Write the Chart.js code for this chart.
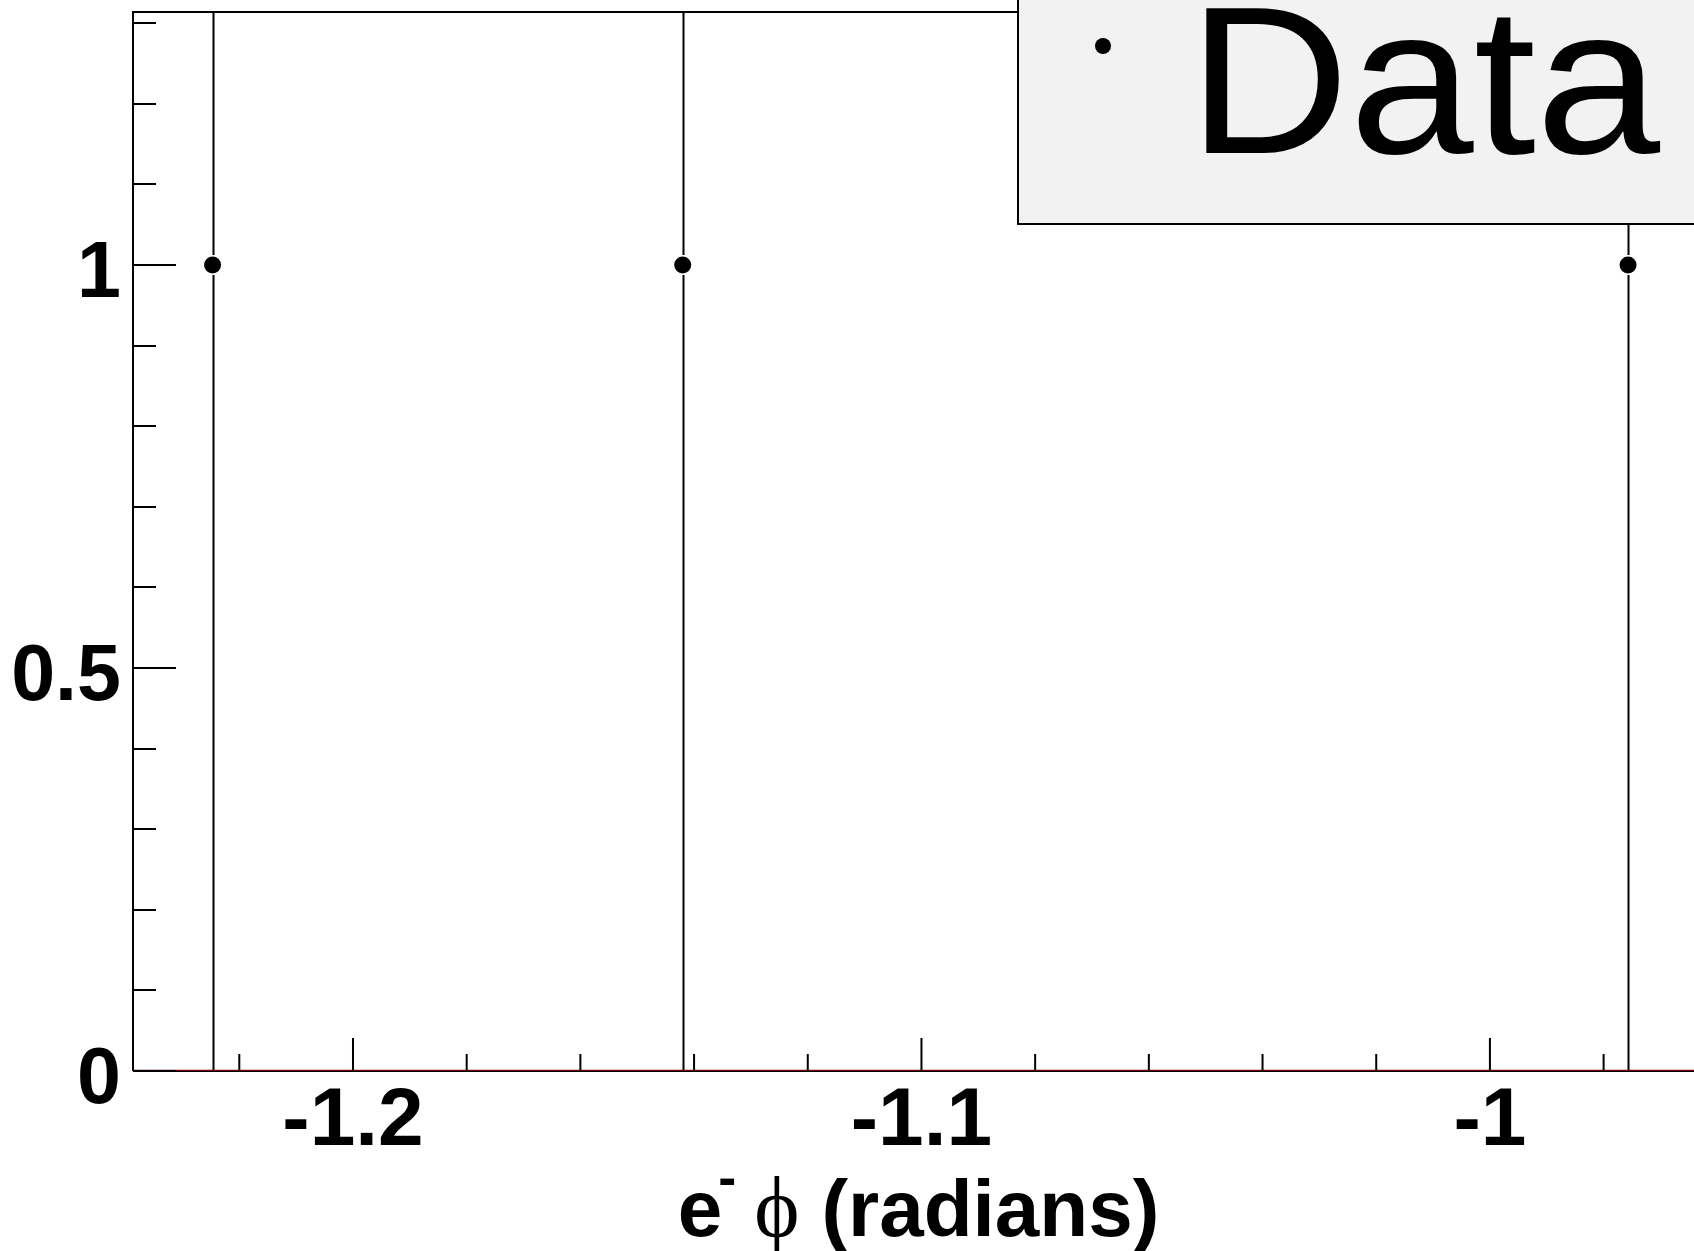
<!DOCTYPE html>
<html>
<head>
<meta charset="utf-8">
<script src="https://cdn.jsdelivr.net/npm/chart.js@4.4.0/dist/chart.umd.min.js"></script>
<style>
  html, body { margin: 0; padding: 0; background: #fff; overflow: hidden; }
  #wrap { width: 1694px; height: 1251px; }
</style>
</head>
<body>
<div id="wrap"><canvas id="phiChart" width="1694" height="1251"></canvas></div>
<script>
// e- phi distribution: three filled bins, one entry each
const binCenters = [-1.2247, -1.1420, -0.9757];
const binCounts = [1, 1, 1];
const binErrors = [1, 1, 1];

// empty reference histogram lying along the axis
const refX = [-1.2387, -0.9641];
const refY = [0, 0];

const xRange = [-1.2387, -0.9641];
const yRange = [0, 1.314];

const xMajorTicks = [-1.2, -1.1, -1.0];
const xTickLabels = ['-1.2', '-1.1', '-1'];
const yMajorTicks = [0, 0.5, 1];
const yTickLabels = ['0', '0.5', '1'];
const xMinorStep = 0.02;
const yMinorStep = 0.1;

const legendLabel = 'Data';

const SANS = '"Liberation Sans", Arial, Helvetica, sans-serif';
const SERIF = '"Liberation Serif", "DejaVu Serif", serif';

// ROOT-like frame, inward ticks, error bars, legend box and axis title
const rootStyle = {
    id: 'rootStyle',
    beforeDatasetsDraw(chart) {
        const { ctx, chartArea: a, scales: { x, y } } = chart;
        ctx.save();
        ctx.strokeStyle = '#000';
        ctx.lineWidth = 2;
        // frame: left, top, bottom (right side is off the page)
        ctx.beginPath();
        ctx.moveTo(a.left, a.bottom);
        ctx.lineTo(a.left, a.top);
        ctx.lineTo(a.right, a.top);
        ctx.moveTo(a.left, a.bottom);
        ctx.lineTo(a.right, a.bottom);
        ctx.stroke();

        // vertical error bars, clipped to the frame, with a gap round the marker
        ctx.beginPath();
        ctx.rect(a.left, a.top, a.right - a.left, a.bottom - a.top);
        ctx.clip();
        binCenters.forEach((c, i) => {
            const px = Math.round(x.getPixelForValue(c)) + 0.5;
            const pc = y.getPixelForValue(binCounts[i]);
            const hi = y.getPixelForValue(binCounts[i] + binErrors[i]);
            const lo = y.getPixelForValue(binCounts[i] - binErrors[i]);
            const gap = 10;
            ctx.beginPath();
            ctx.moveTo(px, hi);
            ctx.lineTo(px, pc - gap);
            ctx.moveTo(px, pc + gap);
            ctx.lineTo(px, lo);
            ctx.stroke();
        });
        ctx.restore();
    },
    afterDraw(chart) {
        const { ctx, chartArea: a, scales: { x, y } } = chart;
        ctx.save();
        ctx.strokeStyle = '#000';
        ctx.lineWidth = 2;

        // x ticks (inward)
        ctx.beginPath();
        const xStart = Math.ceil(xRange[0] / xMinorStep) * xMinorStep;
        for (let v = xStart; v <= xRange[1] + 1e-9; v += xMinorStep) {
            const px = x.getPixelForValue(v);
            const major = xMajorTicks.some(t => Math.abs(t - v) < 1e-6);
            ctx.moveTo(px, a.bottom);
            ctx.lineTo(px, a.bottom - (major ? 33 : 17));
        }
        // y ticks (inward)
        for (let v = yRange[0]; v <= yRange[1] + 1e-9; v += yMinorStep) {
            const py = Math.round(y.getPixelForValue(v));
            const major = yMajorTicks.some(t => Math.abs(t - v) < 1e-6);
            ctx.moveTo(a.left, py);
            ctx.lineTo(a.left + (major ? 43 : 23), py);
        }
        ctx.stroke();

        // legend box
        const lx = 1018, lb = 224;
        ctx.fillStyle = '#f2f2f2';
        ctx.fillRect(lx, -10, a.right + 20 - lx, lb + 10);
        ctx.beginPath();
        ctx.moveTo(lx, -10);
        ctx.lineTo(lx, lb);
        ctx.lineTo(a.right + 10, lb);
        ctx.stroke();
        ctx.fillStyle = '#000';
        ctx.beginPath();
        ctx.arc(1103, 46, 8, 0, Math.PI * 2);
        ctx.fill();
        ctx.save();
        ctx.translate(1188, 153);
        ctx.scale(1.064, 1);
        ctx.font = '210px ' + SANS;
        ctx.textBaseline = 'alphabetic';
        ctx.textAlign = 'left';
        ctx.fillText(legendLabel, 0, 0);
        ctx.restore();

        // x-axis title: e^- phi (radians)
        const base = 1236;
        const parts = [
            { t: 'e', font: 'bold 80px ' + SANS, dy: 0, kern: 0 },
            { t: '-', font: 'bold 54px ' + SANS, dy: -40, kern: -4 },
            { t: '\u03D5', font: '86px ' + SERIF, dy: 0, kern: 18 },
            { t: '(radians)', font: 'bold 80px ' + SANS, dy: 0, kern: 22 }
        ];
        let total = 0;
        parts.forEach(p => { ctx.font = p.font; p.w = ctx.measureText(p.t).width; total += p.w + p.kern; });
        let cx = (a.left + a.right) / 2 - total / 2 + 5;
        ctx.textAlign = 'left';
        ctx.textBaseline = 'alphabetic';
        parts.forEach(p => {
            cx += p.kern;
            ctx.font = p.font;
            ctx.fillText(p.t, cx, base + p.dy);
            cx += p.w;
        });
        ctx.restore();
    }
};

const ctx = document.getElementById('phiChart').getContext('2d');
const phiChart = new Chart(ctx, {
    type: 'scatter',
    data: {
        datasets: [
            {
                label: legendLabel,
                data: binCenters.map((c, i) => ({ x: c, y: binCounts[i] })),
                pointRadius: 8.5,
                pointBackgroundColor: '#000',
                pointBorderWidth: 0,
                showLine: false,
                order: 0
            },
            {
                label: 'reference',
                type: 'line',
                data: refX.map((v, i) => ({ x: v, y: refY[i] })),
                borderColor: '#7a0000',
                borderWidth: 2.5,
                pointRadius: 0,
                order: 1
            }
        ]
    },
    options: {
        responsive: false,
        animation: false,
        devicePixelRatio: 1,
        layout: { autoPadding: false, padding: { top: 12, right: 0, left: 0, bottom: 0 } },
        plugins: {
            legend: { display: false },
            tooltip: { enabled: false }
        },
        scales: {
            x: {
                type: 'linear',
                min: xRange[0],
                max: xRange[1],
                grid: { display: false, drawTicks: false },
                border: { display: false },
                afterBuildTicks: s => { s.ticks = xMajorTicks.map(v => ({ value: v })); },
                afterFit: s => {
                    s.height = 180;
                    s.paddingLeft = 0;
                    s.paddingRight = 0;
                },
                ticks: {
                    color: '#000',
                    font: { family: SANS, size: 82, weight: 'bold', lineHeight: 1 },
                    padding: 10,
                    maxRotation: 0,
                    autoSkip: false,
                    callback: (v, i) => xTickLabels[i]
                }
            },
            y: {
                type: 'linear',
                min: yRange[0],
                max: yRange[1],
                grid: { display: false, drawTicks: false },
                border: { display: false },
                afterBuildTicks: s => { s.ticks = yMajorTicks.map(v => ({ value: v })); },
                afterFit: s => {
                    s.width = 133;
                    s.paddingTop = 0;
                    s.paddingBottom = 0;
                },
                ticks: {
                    color: '#000',
                    font: { family: SANS, size: 79, weight: 'bold', lineHeight: 1 },
                    padding: 12,
                    labelOffset: 10,
                    callback: (v, i) => yTickLabels[i]
                }
            }
        }
    },
    plugins: [rootStyle]
});
</script>
</body>
</html>
